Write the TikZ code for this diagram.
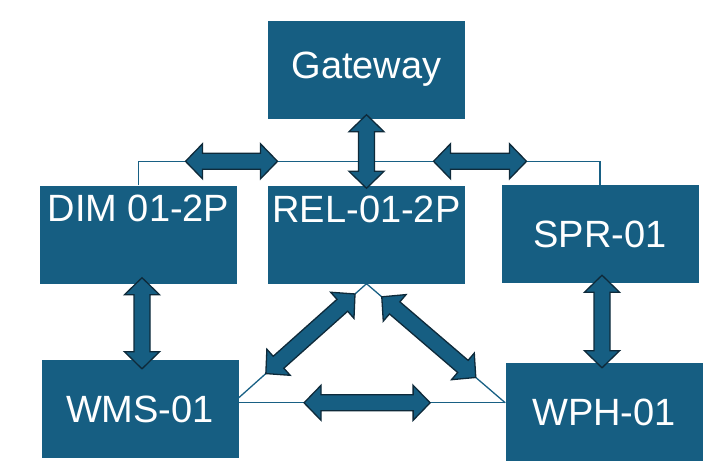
\documentclass[tikz,border=0pt]{standalone}
\usepackage{fontspec}
\setmainfont{Liberation Sans}
\usepackage{tikz}
\usetikzlibrary{calc}
\usetikzlibrary{positioning}
\definecolor{boxblue}{RGB}{22,94,130}
\definecolor{arrowedge}{RGB}{14,42,58}
\definecolor{linkblue}{RGB}{24,96,132}

% fat double arrow between two named coordinates
\newcommand{\FatArrow}[2]{%
\path let \p1=($(#2)-(#1)$) in
  \pgfextra{\pgfmathsetmacro{\ArrLen}{veclen(\x1,\y1)}\pgfmathsetmacro{\ArrAng}{atan2(\y1,\x1)}%
  \global\let\ArrLen\ArrLen\global\let\ArrAng\ArrAng};
\draw[FatArrows, shift={(#1)}, rotate=\ArrAng]
  (0pt,0pt) -- (17pt,17.5pt) -- (17pt,8pt) -- ({\ArrLen pt-17pt},8pt) -- ({\ArrLen pt-17pt},17.5pt)
  -- ({\ArrLen pt},0pt) -- ({\ArrLen pt-17pt},-17.5pt) -- ({\ArrLen pt-17pt},-8pt)
  -- (17pt,-8pt) -- (17pt,-17.5pt) -- cycle;
}

\begin{document}
\begin{tikzpicture}[
x=1pt, y=-1pt,
MyBoxes/.style={fill=boxblue,minimum width=197pt,minimum height=98pt,inner sep=0pt,text=white,font=\fontsize{38}{40}\selectfont},
BoxText/.style={text=white,font=\fontsize{38}{40}\selectfont,inner sep=0pt},
Links/.style={draw=linkblue,line width=1.3pt},
FatArrows/.style={fill=boxblue,draw=arrowedge,line width=1.3pt,line join=miter}
]
\useasboundingbox (0,0) rectangle (725,475);

% boxes
\node[MyBoxes] (gateway) at (366.5,69.5) {Gateway};
\node[MyBoxes, label={[BoxText,anchor=center,yshift=-23pt]north:DIM 01-2P}] (dim) at (138.5,234.5) {};
\node[MyBoxes, label={[BoxText,anchor=center,yshift=-24pt]north:REL-01-2P}] (rel) at (366.5,234.5) {};
\node[MyBoxes] (spr) at (600,234) {SPR-01};
\node[MyBoxes] (wms) at (140,409) {WMS-01};
\node[MyBoxes] (wph) at (604,412) {WPH-01};

% thin links
\coordinate (BusL) at ($(dim.north)+(0,-24)$);
\coordinate (BusR) at (BusL -| spr.north);
\draw[Links] (dim.north) -- (BusL) -- (BusR) -- (spr.north);

\coordinate (Apex) at (rel.south);
\coordinate (TriL) at ($(wms.north east)+(0,38)$);
\coordinate (BotL) at ($(wms.north east)+(0,43)$);
\coordinate (BotR) at ($(wph.north west)+(0,40)$);
\draw[Links] (TriL) -- (Apex) -- (BotR);
\draw[Links] (BotL) -- (BotR);

% arrow ends
\coordinate (GwA) at ($(gateway.south)+(0,-4)$);
\coordinate (RelA) at ($(rel.north)+(0,3)$);
\coordinate (BusA1) at ($(BusL)+(47,0)$);
\coordinate (BusA2) at ($(BusL)+(139,0)$);
\coordinate (BusB1) at ($(BusL)+(295,0)$);
\coordinate (BusB2) at ($(BusL)+(388,0)$);
\coordinate (DimA) at ($(dim.south)+(3.5,-6)$);
\coordinate (WmsA) at ($(wms.north)+(2,9)$);
\coordinate (SprA) at ($(spr.south)+(2,-8)$);
\coordinate (WphA) at ($(wph.north)+(-2,5)$);
\coordinate (DiagL1) at ($(Apex)!0.09!(TriL)$);
\coordinate (DiagL2) at ($(Apex)!0.79!(TriL)$);
\coordinate (DiagR1) at ($(Apex)!0.11!(BotR)$);
\coordinate (DiagR2) at ($(Apex)!0.79!(BotR)$);
\coordinate (BotA1) at ($(BotL)!0.245!(BotR)$);
\coordinate (BotA2) at ($(BotL)!0.718!(BotR)$);

% fat arrows
\FatArrow{GwA}{RelA}
\FatArrow{BusA1}{BusA2}
\FatArrow{BusB1}{BusB2}
\FatArrow{DimA}{WmsA}
\FatArrow{SprA}{WphA}
\FatArrow{DiagL1}{DiagL2}
\FatArrow{DiagR1}{DiagR2}
\FatArrow{BotA1}{BotA2}

\end{tikzpicture}
\end{document}
